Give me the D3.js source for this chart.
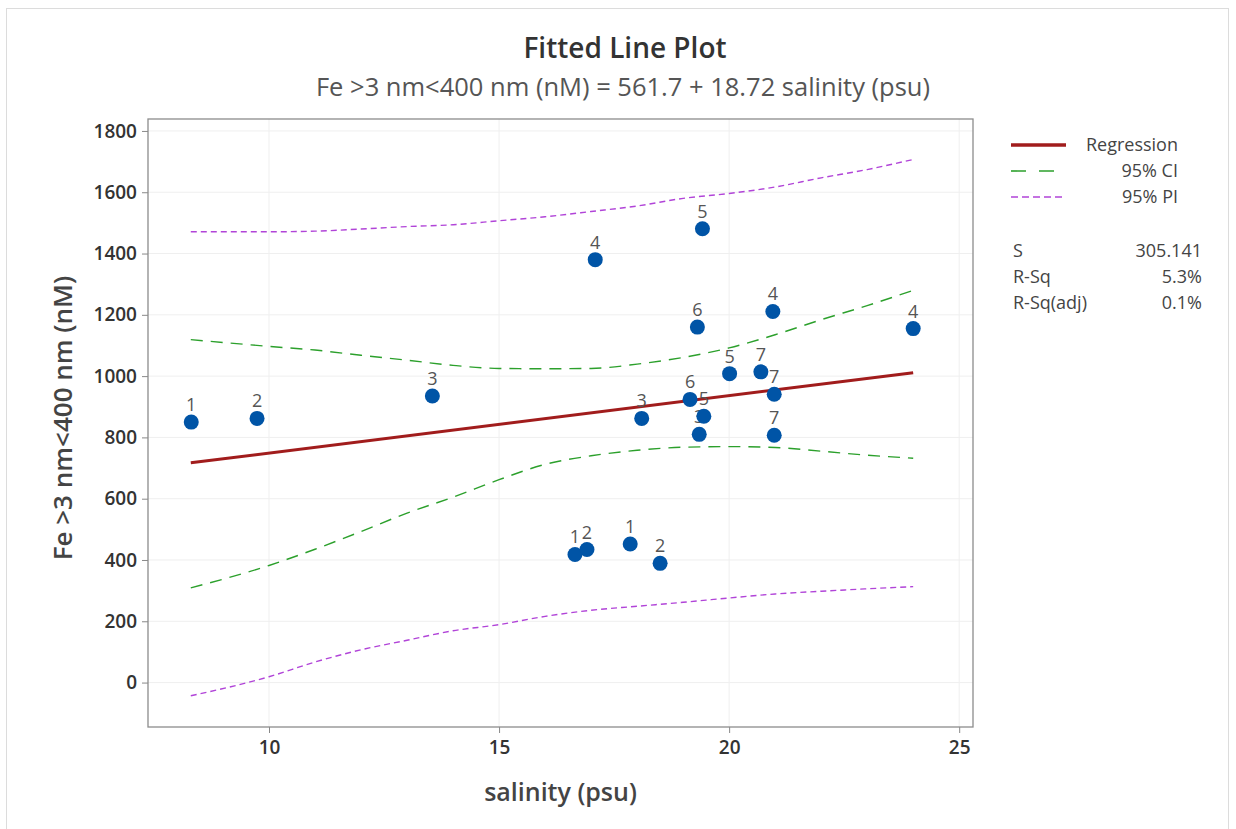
<!DOCTYPE html>
<html><head><meta charset="utf-8">
<script src="https://cdn.jsdelivr.net/npm/d3@7"></script>
<style>
body{margin:0;background:#fff;}
text{font-family:"Open Sans","Noto Sans",sans-serif;}
</style></head><body>
<svg id="c" width="1236" height="829"></svg>
<script>
// ---- data ----
const salinity = [8.31, 9.74, 13.55, 17.09, 19.42, 19.31, 20.95, 24.0, 20.01, 20.69, 20.98, 19.15, 19.45, 18.10, 19.35, 20.98, 16.65, 16.91, 17.85, 18.50];
const fe       = [850, 862, 935, 1380, 1481, 1160, 1211, 1155, 1008, 1014, 941, 924, 869, 862, 810, 807, 418, 434, 452, 389];
const groups   = ["1","2","3","4","5","6","4","4","5","7","7","6","5","3","3","7","1","2","1","2"];

const intercept = 561.7, slope = 18.72;
const fitX = [8.3, 24.0];

const bandX   = [8.3, 10, 11, 12, 13, 14, 15, 16, 17, 18, 19, 20, 21, 22, 23, 24];
const ciUpper = [1119, 1097, 1085, 1068, 1052, 1035, 1025, 1024, 1025, 1039, 1061, 1092, 1135, 1184, 1230, 1280];
const ciLower = [309, 382, 435, 493, 553, 605, 662, 712, 740, 758, 768, 770, 767, 755, 742, 732];
const piUpper = [1471, 1471, 1473, 1480, 1488, 1494, 1507, 1520, 1537, 1555, 1580, 1596, 1617, 1647, 1674, 1707];
const piLower = [-43, 19, 67, 107, 138, 169, 189, 216, 236, 249, 262, 276, 289, 298, 306, 313];

const xTicks = [10, 15, 20, 25];
const yTicks = [0, 200, 400, 600, 800, 1000, 1200, 1400, 1600, 1800];

const legendItems = ["Regression", "95% CI", "95% PI"];
const statNames = ["S", "R-Sq", "R-Sq(adj)"];
const statValues = ["305.141", "5.3%", "0.1%"];

// ---- drawing ----
const svg = d3.select("#c");
const L = 148, R = 973, T = 119, B = 727;
const x = d3.scaleLinear().domain([7.37, 25.30]).range([L, R]);
const y = d3.scaleLinear().domain([-145, 1839]).range([B, T]);
const FONT = "'Open Sans','Noto Sans',sans-serif";

// outer frame
svg.append("rect").attr("x", 6.5).attr("y", 8.5).attr("width", 1222).attr("height", 830)
  .attr("fill", "none").attr("stroke", "#dcdcdc").attr("stroke-width", 1);

// title
svg.append("text").attr("x", 625).attr("y", 58).attr("text-anchor", "middle")
  .attr("font-size", 28).attr("font-weight", 600).attr("fill", "#333").text("Fitted Line Plot");
svg.append("text").attr("x", 623).attr("y", 96).attr("text-anchor", "middle")
  .attr("font-size", 25.5).attr("fill", "#555")
  .text("Fe >3 nm<400 nm (nM) = 561.7 + 18.72 salinity (psu)");

// gridlines
const grid = svg.append("g");
grid.selectAll("line.gx").data(xTicks.filter(t => x(t) < R)).enter().append("line")
  .attr("x1", d => x(d)).attr("x2", d => x(d)).attr("y1", T).attr("y2", B)
  .attr("stroke", "#efefef").attr("stroke-width", 1);
grid.selectAll("line.gy").data(yTicks).enter().append("line")
  .attr("x1", L).attr("x2", R).attr("y1", d => y(d)).attr("y2", d => y(d))
  .attr("stroke", "#efefef").attr("stroke-width", 1);

// axes
const xAxis = svg.append("g").attr("transform", `translate(0,${B})`)
  .call(d3.axisBottom(x).tickValues(xTicks).tickFormat(d3.format("d")).tickSize(6).tickPadding(8));
const yAxis = svg.append("g").attr("transform", `translate(${L},0)`)
  .call(d3.axisLeft(y).tickValues(yTicks).tickFormat(d3.format("d")).tickSize(6).tickPadding(5));
[xAxis, yAxis].forEach(a => {
  a.select(".domain").remove();
  a.selectAll("line").attr("stroke", "#888");
  a.selectAll("text").attr("font-size", 19).attr("font-weight", 600).attr("fill", "#333")
    .attr("font-family", FONT);
});

// plot box
svg.append("rect").attr("x", L).attr("y", T).attr("width", R - L).attr("height", B - T)
  .attr("fill", "none").attr("stroke", "#8c8c8c").attr("stroke-width", 1.3);

// axis titles
svg.append("text").attr("x", (L + R) / 2).attr("y", 801).attr("text-anchor", "middle")
  .attr("font-size", 25).attr("font-weight", 600).attr("fill", "#444").text("salinity (psu)");
svg.append("text").attr("transform", `translate(72,418) rotate(-90)`)
  .attr("text-anchor", "middle").attr("font-size", 26).attr("font-weight", 600).attr("fill", "#444")
  .text("Fe >3 nm<400 nm (nM)");

// bands
const line = d3.line().x(d => x(d[0])).y(d => y(d[1])).curve(d3.curveMonotoneX);
const ciStyle = { stroke: "#2ca02c", dash: "12,8", w: 1.4 };
const piStyle = { stroke: "#b144d8", dash: "6,4", w: 1.4 };
[[piUpper, piStyle], [piLower, piStyle], [ciUpper, ciStyle], [ciLower, ciStyle]].forEach(([vals, s]) => {
  svg.append("path").attr("d", line(bandX.map((bx, i) => [bx, vals[i]])))
    .attr("fill", "none").attr("stroke", s.stroke).attr("stroke-width", s.w)
    .attr("stroke-dasharray", s.dash);
});

// regression
svg.append("path").attr("d", line(fitX.map(fx => [fx, intercept + slope * fx])))
  .attr("fill", "none").attr("stroke", "#a11c1c").attr("stroke-width", 3);

// points
const pts = salinity.map((s, i) => ({ s, f: fe[i], g: groups[i] }));
svg.append("g").selectAll("text").data(pts).enter().append("text")
  .attr("x", d => x(d.s)).attr("y", d => y(d.f) - 11).attr("text-anchor", "middle")
  .attr("font-size", 18).attr("fill", "#555").text(d => d.g);
svg.append("g").selectAll("circle").data(pts).enter().append("circle")
  .attr("cx", d => x(d.s)).attr("cy", d => y(d.f)).attr("r", 7.5).attr("fill", "#0054a6");

// legend
const lg = svg.append("g");
const legStyles = [
  { stroke: "#a11c1c", dash: null, w: 3.5 },
  { stroke: "#2ca02c", dash: "15,13", w: 1.6 },
  { stroke: "#b144d8", dash: "7,4", w: 1.6 }
];
legendItems.forEach((t, i) => {
  const yy = 145 + i * 26;
  lg.append("line").attr("x1", 1011).attr("x2", 1066).attr("y1", yy).attr("y2", yy)
    .attr("stroke", legStyles[i].stroke).attr("stroke-width", legStyles[i].w)
    .attr("stroke-dasharray", legStyles[i].dash);
  lg.append("text").attr("x", 1178).attr("y", yy + 6).attr("text-anchor", "end")
    .attr("font-size", 18).attr("fill", "#444").text(t);
});
statNames.forEach((n, i) => {
  const yy = 257 + i * 26;
  lg.append("text").attr("x", 1013).attr("y", yy).attr("font-size", 18).attr("fill", "#444").text(n);
  lg.append("text").attr("x", 1202).attr("y", yy).attr("text-anchor", "end")
    .attr("font-size", 18).attr("fill", "#444").text(statValues[i]);
});
</script></body></html>
